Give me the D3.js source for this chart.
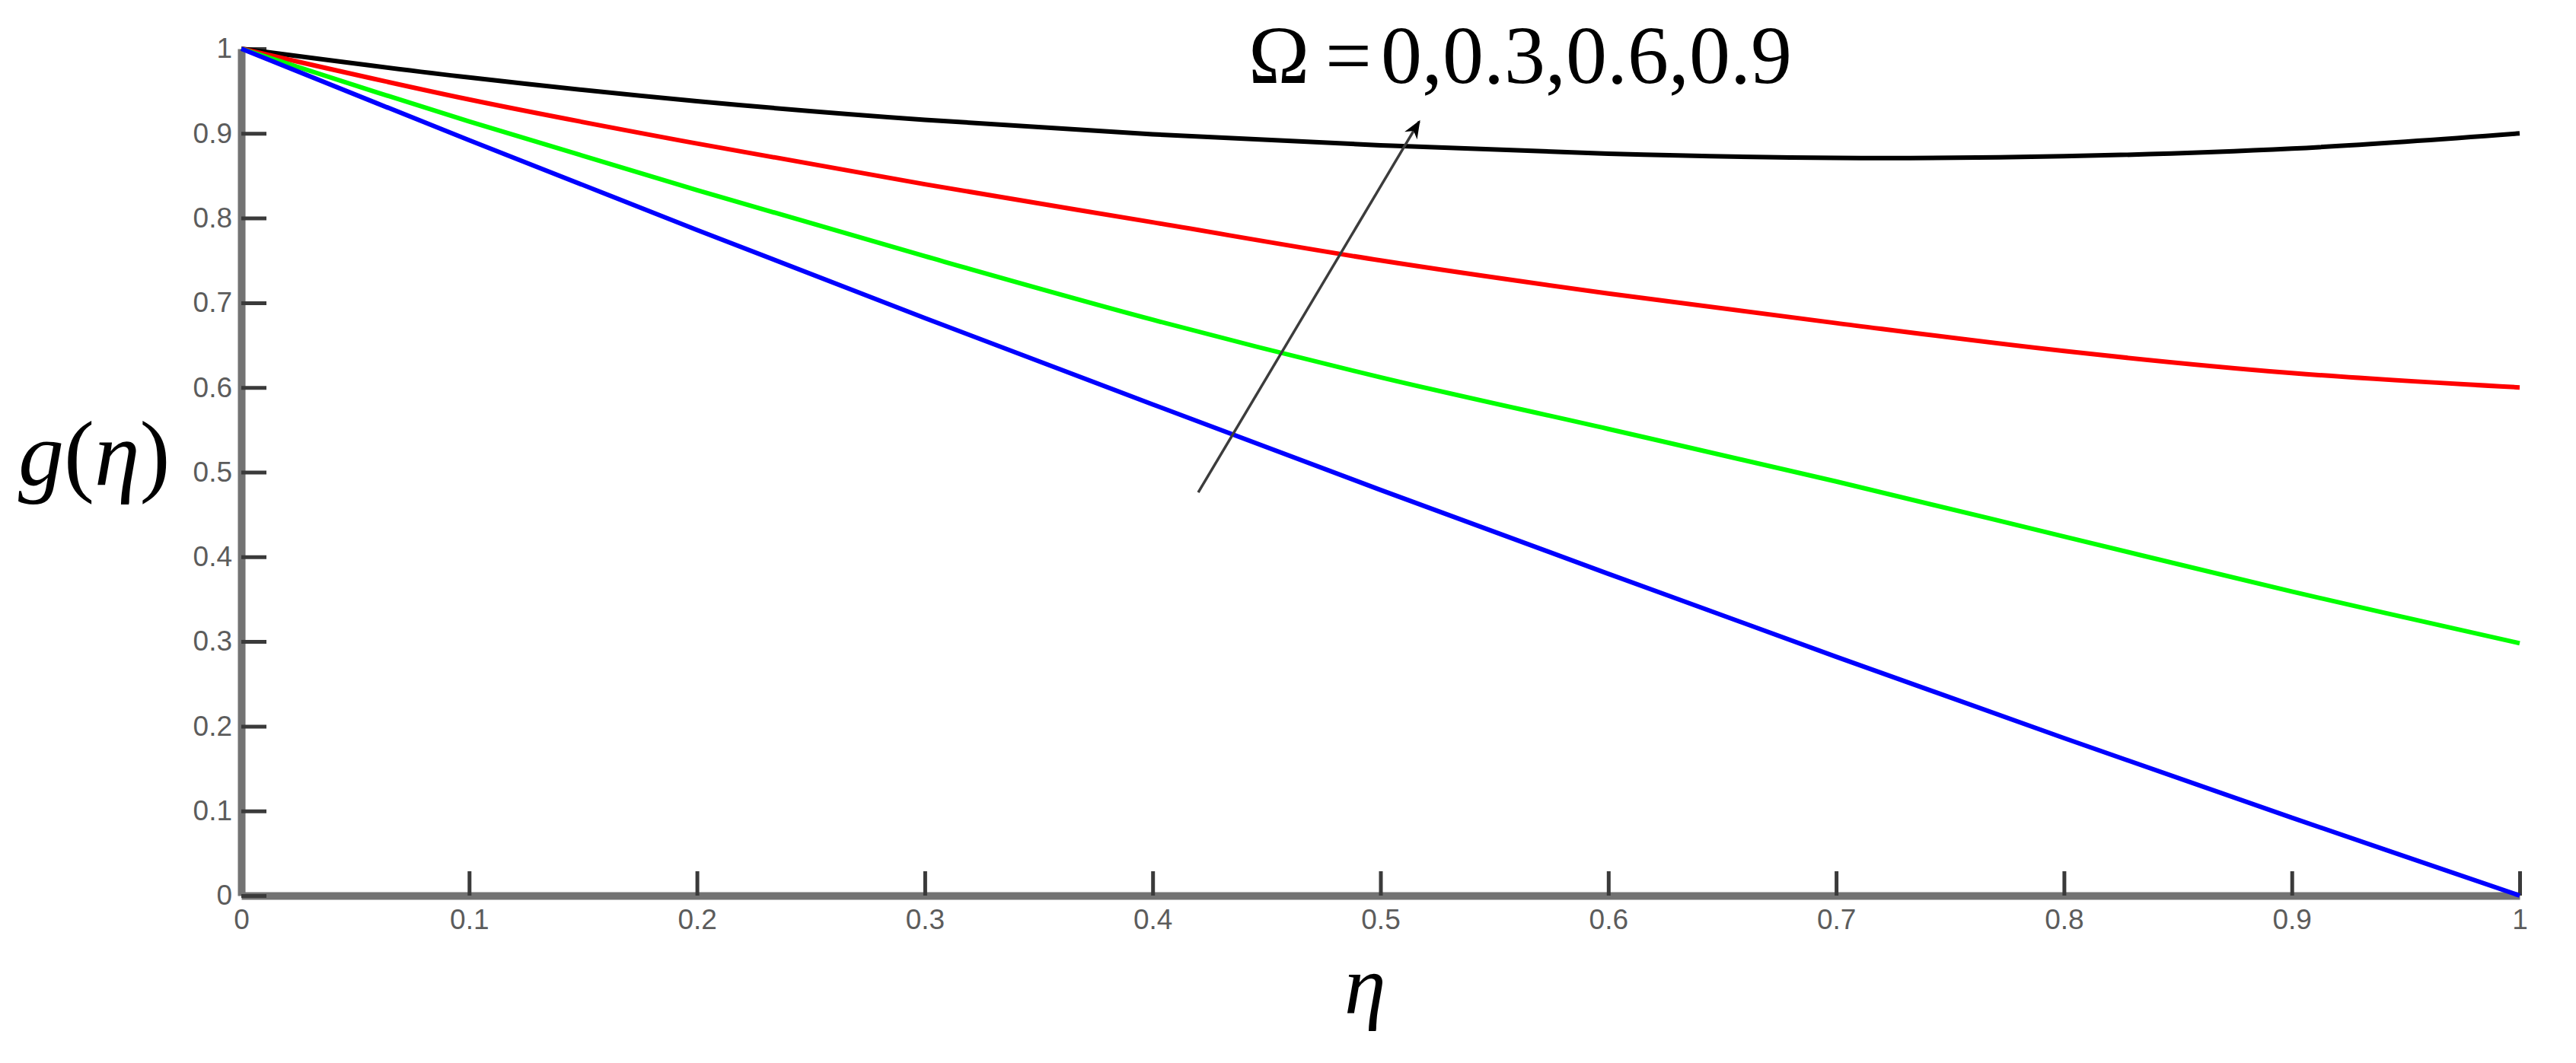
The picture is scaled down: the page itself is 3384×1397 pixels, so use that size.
<!DOCTYPE html>
<html>
<head>
<meta charset="utf-8">
<script src="https://cdn.jsdelivr.net/npm/d3@7"></script>
<style>
  html, body { margin: 0; padding: 0; background: #fff; }
  svg { display: block; }
</style>
</head>
<body>
<svg id="chart" width="3384" height="1397"></svg>
<script>
// ---- data ----
const eta = [0, 0.1, 0.2, 0.3, 0.4, 0.5, 0.6, 0.7, 0.8, 0.9, 1];
const gOmega0  = [1, 0.966, 0.938, 0.916, 0.899, 0.886, 0.876, 0.871, 0.873, 0.882, 0.900]; // black
const gOmega03 = [1, 0.940, 0.888, 0.840, 0.795, 0.750, 0.711, 0.676, 0.643, 0.617, 0.600]; // red
const gOmega06 = [1, 0.914, 0.833, 0.755, 0.680, 0.612, 0.551, 0.489, 0.424, 0.359, 0.298]; // green
const gOmega09 = [1, 0.892, 0.786, 0.682, 0.580, 0.479, 0.380, 0.282, 0.186, 0.092, 0.000]; // blue
const seriesNames = ["Ω=0", "Ω=0.3", "Ω=0.6", "Ω=0.9"];
const seriesColors = ["#000000", "#ff0000", "#00ff00", "#0000ff"];
const xTickValues = [0, 0.1, 0.2, 0.3, 0.4, 0.5, 0.6, 0.7, 0.8, 0.9, 1];
const yTickValues = [0, 0.1, 0.2, 0.3, 0.4, 0.5, 0.6, 0.7, 0.8, 0.9, 1];
const arrowFrom = [0.420, 0.476];
const arrowTo = [0.517, 0.914];
const annotationParts = ["Ω", "=", "0,0.3,0.6,0.9"];

// ---- layout ----
const svg = d3.select("#chart");
const x = d3.scaleLinear().domain([0, 1]).range([317, 3310]);
const y = d3.scaleLinear().domain([0, 1]).range([1177, 64]);

// ---- axes ----
const xAxis = d3.axisBottom(x)
  .tickValues(xTickValues)
  .tickFormat(d => String(d))
  .tickSizeInner(-32).tickSizeOuter(0).tickPadding(18);
const yAxis = d3.axisLeft(y)
  .tickValues(yTickValues)
  .tickFormat(d => String(d))
  .tickSizeInner(-33).tickSizeOuter(0).tickPadding(12);

function styleAxis(g) {
  g.select(".domain").attr("stroke", "#737373").attr("stroke-width", 10);
  g.selectAll(".tick line").attr("stroke", "#3a3a3a").attr("stroke-width", 5);
  g.selectAll(".tick text")
    .attr("fill", "#5c5c5c")
    .style("font-family", "'Liberation Sans', Arial, sans-serif")
    .style("font-size", "37px");
}

svg.append("g").attr("transform", `translate(0,${y(0)})`).call(xAxis).call(styleAxis);
svg.append("g").attr("transform", `translate(${x(0)},0)`).call(yAxis).call(styleAxis);

// ---- curves ----
const allSeries = [gOmega0, gOmega03, gOmega06, gOmega09];
const line = d3.line()
  .x((d, i) => x(eta[i]))
  .y(d => y(d))
  .curve(d3.curveCatmullRom.alpha(0.5));

svg.append("g").selectAll("path.curve")
  .data(allSeries)
  .join("path")
  .attr("class", "curve")
  .attr("fill", "none")
  .attr("stroke", (d, i) => seriesColors[i])
  .attr("stroke-width", 6)
  .attr("d", d => line(d))
  .append("title").text((d, i) => seriesNames[i]);

// ---- arrow ----
const defs = svg.append("defs");
defs.append("marker")
  .attr("id", "arrowhead")
  .attr("viewBox", "0 0 10 10")
  .attr("refX", 9).attr("refY", 5)
  .attr("markerUnits", "userSpaceOnUse")
  .attr("markerWidth", 34).attr("markerHeight", 24)
  .attr("orient", "auto")
  .append("path")
  .attr("d", "M0,1 L10,5 L0,9 L3,5 Z")
  .attr("fill", "#000");

svg.append("line")
  .attr("x1", x(arrowFrom[0])).attr("y1", y(arrowFrom[1]))
  .attr("x2", x(arrowTo[0])).attr("y2", y(arrowTo[1]))
  .attr("stroke", "#3c3c3c")
  .attr("stroke-width", 3.5)
  .attr("marker-end", "url(#arrowhead)");

// ---- annotation ----
const ann = svg.append("text")
  .attr("y", 109)
  .attr("fill", "#000")
  .style("font-family", "'Liberation Serif', 'Times New Roman', serif")
  .style("font-size", "108px");
ann.append("tspan").attr("x", 1640).text(annotationParts[0]);
ann.append("tspan").attr("x", 1741).text(annotationParts[1]);
ann.append("tspan").attr("x", 1814).text(annotationParts[2]);

// ---- axis titles ----
const yl = svg.append("text")
  .attr("x", 24).attr("y", 637)
  .attr("fill", "#000")
  .style("font-family", "'Liberation Serif', 'Times New Roman', serif")
  .style("font-size", "120px");
yl.append("tspan").style("font-style", "italic").text("g");
yl.append("tspan").text("(");
yl.append("tspan").style("font-style", "italic").text("η");
yl.append("tspan").text(")");

svg.append("text")
  .attr("x", 1766).attr("y", 1332)
  .attr("fill", "#000")
  .style("font-family", "'Liberation Serif', 'Times New Roman', serif")
  .style("font-size", "110px")
  .style("font-style", "italic")
  .text("η");
</script>
</body>
</html>
